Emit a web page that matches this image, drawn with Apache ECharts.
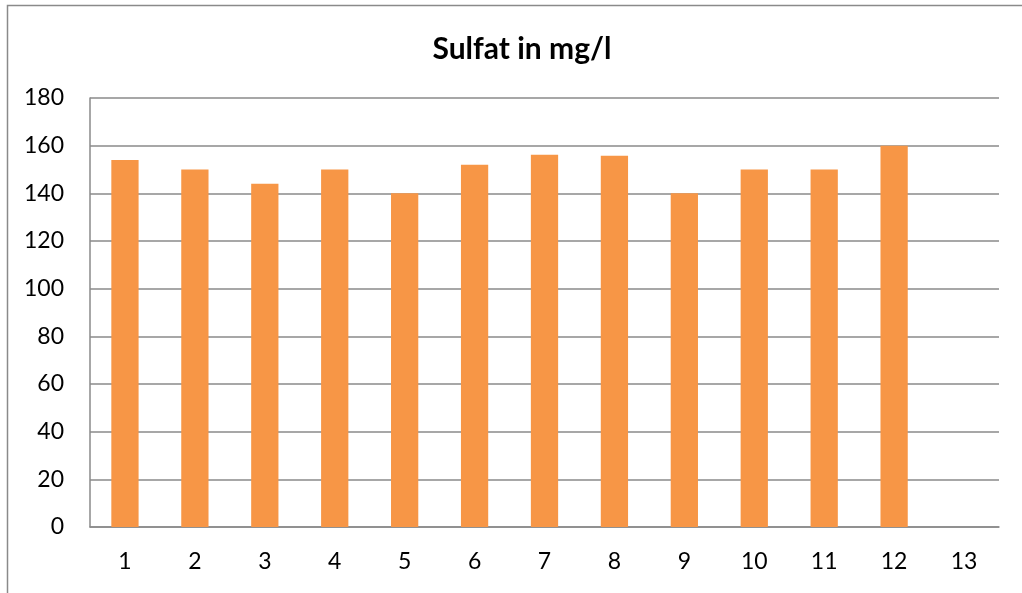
<!DOCTYPE html>
<html>
<head>
<meta charset="utf-8">
<script src="https://cdn.jsdelivr.net/npm/echarts@6/dist/echarts.min.js"></script>
<style>
html,body{margin:0;padding:0;background:#fff;}
#chart{width:1022px;height:593px;}
</style>
</head>
<body>
<div id="chart"></div>
<script>
const categories = ['1','2','3','4','5','6','7','8','9','10','11','12','13'];
const sulfatValues = [154, 150, 144, 150, 140, 152, 156.2, 155.8, 140, 150, 150, 160, null];
const yTicks = { min: 0, max: 180, interval: 20 };
const titleText = 'Sulfat in mg/l';

const chart = echarts.init(document.getElementById('chart'));
chart.setOption({
  backgroundColor: '#fff',
  animation: false,
  title: {
    text: titleText,
    left: 517, top: 29, textAlign: 'center',
    textStyle: { fontFamily: 'Lato', fontWeight: 'bold', fontSize: 30, color: '#000' }
  },
  graphic: [{
    type: 'rect',
    shape: { x: 7.5, y: 5.5, width: 1040, height: 620 },
    style: { fill: 'none', stroke: '#8a8a8a', lineWidth: 1.5 },
    silent: true, z: -1
  }],
  grid: { left: 90, right: 23, top: 98, bottom: 66, containLabel: false },
  xAxis: {
    type: 'category',
    data: categories,
    axisLine: { show: true, lineStyle: { color: '#8a8a8a', width: 1.5 } },
    axisTick: { show: false },
    axisLabel: { fontFamily: 'Lato', fontSize: 23, color: '#000', margin: 23 }
  },
  yAxis: {
    type: 'value',
    min: yTicks.min, max: yTicks.max, interval: yTicks.interval,
    axisLine: { show: true, lineStyle: { color: '#8a8a8a', width: 1.5 } },
    axisTick: { show: false },
    splitLine: { lineStyle: { color: '#8a8a8a', width: 1.5 } },
    axisLabel: { fontFamily: 'Lato', fontSize: 23, color: '#000', margin: 26 }
  },
  series: [{
    type: 'bar',
    data: sulfatValues,
    barWidth: '39%',
    itemStyle: { color: '#F79646' }
  }]
});
</script>
</body>
</html>
